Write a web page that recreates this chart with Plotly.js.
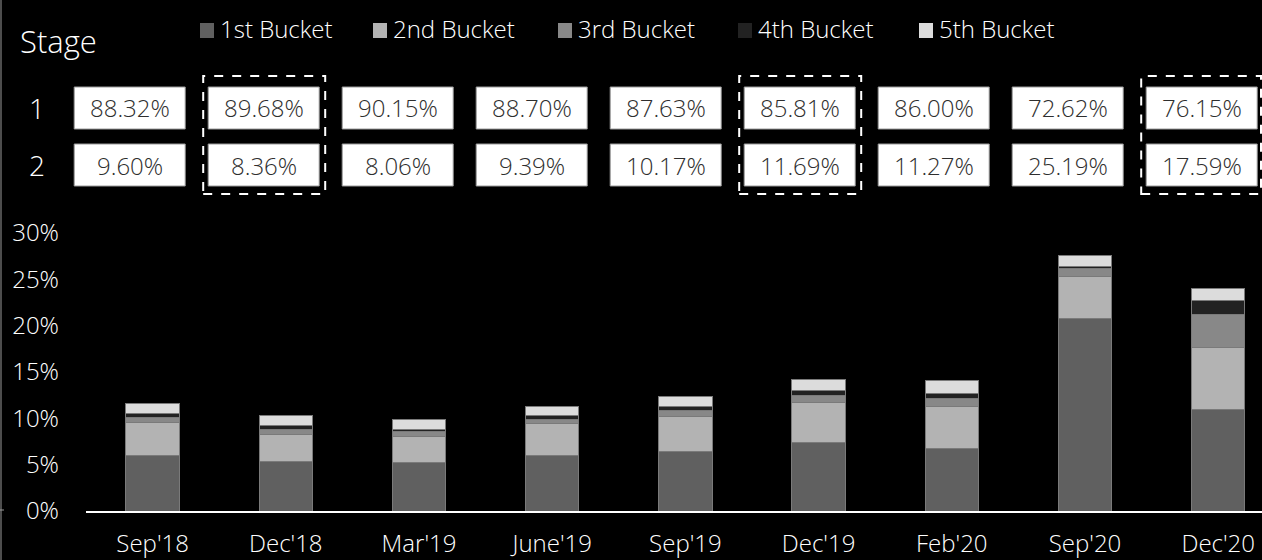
<!DOCTYPE html>
<html>
<head>
<meta charset="utf-8">
<script src="https://cdn.plot.ly/plotly-3.0.1.min.js"></script>
<style>
  html, body { margin: 0; padding: 0; background: #000; }
  #chart { width: 1262px; height: 560px; }
</style>
</head>
<body>
<div id="chart"></div>
<script>
// ---- data ----
const categories = ["Sep'18", "Dec'18", "Mar'19", "June'19", "Sep'19", "Dec'19", "Feb'20", "Sep'20", "Dec'20"];
const seriesNames = ["1st Bucket", "2nd Bucket", "3rd Bucket", "4th Bucket", "5th Bucket"];
const bucket1 = [6.0, 5.3, 5.25, 6.0, 6.4, 7.4, 6.77, 20.8, 11.0];
const bucket2 = [3.6, 3.0, 2.76, 3.45, 3.8, 4.3, 4.53, 4.5, 6.66];
const bucket3 = [0.5, 0.5, 0.54, 0.43, 0.65, 0.72, 0.83, 0.86, 3.53];
const bucket4 = [0.45, 0.43, 0.29, 0.4, 0.43, 0.54, 0.5, 0.18, 1.55];
const bucket5 = [1.1, 1.08, 1.05, 1.0, 1.1, 1.22, 1.44, 1.19, 1.22];
const stage1 = ["88.32%", "89.68%", "90.15%", "88.70%", "87.63%", "85.81%", "86.00%", "72.62%", "76.15%"];
const stage2 = ["9.60%", "8.36%", "8.06%", "9.39%", "10.17%", "11.69%", "11.27%", "25.19%", "17.59%"];
const stageLabels = ["1", "2"];
const highlighted = ["Dec'18", "Dec'19", "Dec'20"];
const yTickVals = [0, 5, 10, 15, 20, 25, 30];
const yTickText = ["0%", "5%", "10%", "15%", "20%", "25%", "30%"];

// ---- styling ----
const colors = ["#606060", "#b3b3b3", "#888888", "#222222", "#dcdcdc"];
const FONT = '"Open Sans", Lato, "DejaVu Sans", sans-serif';
const W = 1262, H = 560;
const PL = 86, PR = 1262, PT = 233, PB = 511;  // plot area in pixels
const px = v => (v - PL) / (PR - PL);
const py = v => (PB - v) / (PB - PT);

const allSeries = [bucket1, bucket2, bucket3, bucket4, bucket5];
const traces = allSeries.map((vals, i) => ({
  type: 'bar',
  name: seriesNames[i],
  x: categories,
  y: vals,
  marker: { color: colors[i], line: { color: '#7a7a7a', width: 1 } },
  hoverinfo: 'x+y+name',
  showlegend: false
}));

const shapes = [];
const annotations = [];

// left border line
shapes.push({ type: 'line', xref: 'paper', yref: 'paper', x0: px(1), x1: px(1), y0: py(0), y1: py(560),
  line: { color: '#9a9a9a', width: 1 } });
shapes.push({ type: 'line', xref: 'paper', yref: 'paper', x0: px(0), x1: px(4), y0: py(510), y1: py(510),
  line: { color: '#9a9a9a', width: 1 } });

// "Stage" title
annotations.push({ xref: 'paper', yref: 'paper', x: px(18), y: py(41), xanchor: 'left', yanchor: 'middle',
  text: 'Stage', showarrow: false, font: { family: FONT, size: 31, color: '#ffffff', weight: 300 } });

// manual legend
const legendLeft = [200, 373, 558, 738, 919];
seriesNames.forEach((name, i) => {
  const x0 = legendLeft[i];
  shapes.push({ type: 'rect', xref: 'paper', yref: 'paper', x0: px(x0), x1: px(x0 + 14), y0: py(23), y1: py(38),
    fillcolor: colors[i], line: { width: 0 } });
  annotations.push({ xref: 'paper', yref: 'paper', x: px(x0 + 18), y: py(29), xanchor: 'left', yanchor: 'middle',
    text: name, showarrow: false, font: { family: FONT, size: 24, color: '#ffffff', weight: 300 } });
});

// stage table
const rowsY = [[87, 129], [144, 186]];
const rowsData = [stage1, stage2];
const boxW = 111, boxStep = 134, firstCenter = 129.7;
stageLabels.forEach((lab, r) => {
  annotations.push({ xref: 'paper', yref: 'paper', x: px(37), y: py((rowsY[r][0] + rowsY[r][1]) / 2),
    xanchor: 'center', yanchor: 'middle', text: lab, showarrow: false,
    font: { family: FONT, size: 28, color: '#ffffff', weight: 300 } });
});
categories.forEach((cat, i) => {
  const c = firstCenter + boxStep * i;
  rowsData.forEach((row, r) => {
    const [t, b] = rowsY[r];
    shapes.push({ type: 'rect', xref: 'paper', yref: 'paper', x0: px(c - boxW / 2), x1: px(c + boxW / 2),
      y0: py(b), y1: py(t), fillcolor: '#ffffff', line: { color: '#9a9a9a', width: 1 } });
    annotations.push({ xref: 'paper', yref: 'paper', x: px(c), y: py((t + b) / 2), xanchor: 'center', yanchor: 'middle',
      text: row[i], showarrow: false, font: { family: FONT, size: 24, color: '#2e2e2e', weight: 300 } });
  });
  if (highlighted.includes(cat)) {
    shapes.push({ type: 'rect', xref: 'paper', yref: 'paper',
      x0: px(c - boxW / 2 - 5), x1: px(Math.min(c + boxW / 2 + 6, 1261)), y0: py(194), y1: py(76),
      line: { color: '#ffffff', width: 2, dash: 'dash' }, fillcolor: 'rgba(0,0,0,0)' });
  }
});

const layout = {
  width: W, height: H,
  paper_bgcolor: '#000000', plot_bgcolor: '#000000',
  margin: { l: PL, r: W - PR, t: PT, b: H - PB, pad: 0 },
  barmode: 'stack',
  bargap: 0.6,
  showlegend: false,
  font: { family: FONT, color: '#ffffff', size: 24, weight: 300 },
  xaxis: {
    type: 'category',
    range: [-0.5, -0.5 + (PR - PL) / 133.2],
    showline: true, linecolor: '#ffffff', linewidth: 2,
    ticks: '', showgrid: false, zeroline: false,
    tickfont: { family: FONT, size: 24, color: '#ffffff', weight: 300 },
    ticklabelstandoff: 10
  },
  yaxis: {
    range: [0, 30],
    tickvals: yTickVals, ticktext: yTickText,
    showline: false, showgrid: false, zeroline: false, ticks: '',
    tickfont: { family: FONT, size: 24, color: '#ffffff', weight: 300 },
    ticklabelstandoff: 26
  },
  shapes: shapes,
  annotations: annotations
};

Plotly.newPlot('chart', traces, layout, { displayModeBar: false, staticPlot: true });
</script>
</body>
</html>
